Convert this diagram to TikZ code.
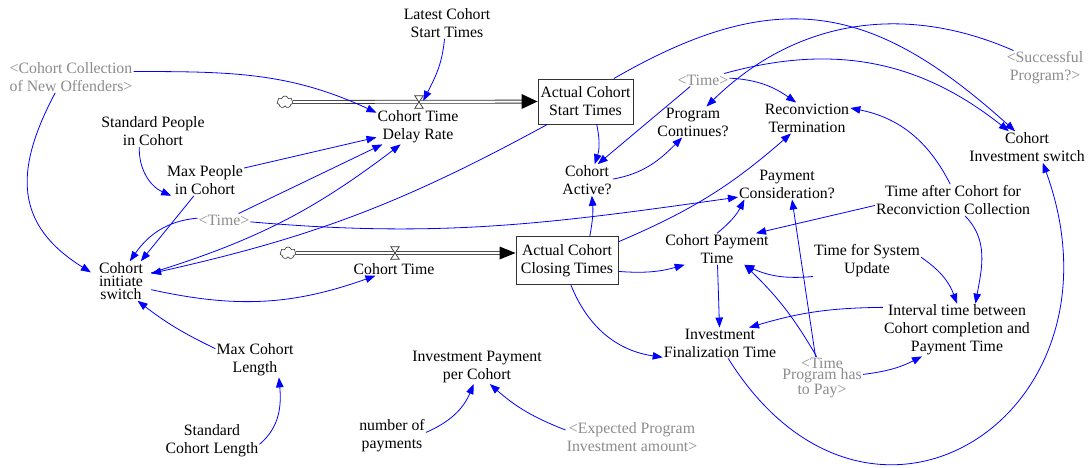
\documentclass[tikz,border=0pt]{standalone}
\usepackage{fontspec}
\setmainfont{Liberation Serif}
\usepackage{tikz}
\usetikzlibrary{arrows.meta}
\usetikzlibrary{shapes.symbols}
\newcommand*\varfont{\fontsize{15.8}{18}\selectfont}
\tikzset{
    var/.style = {align=center,inner sep=1pt,font=\varfont},
    ghost/.style = {var,text=black!45},
    tight/.style = {font=\fontsize{15.8}{13}\selectfont},
    tighter/.style = {font=\fontsize{15.8}{11.5}\selectfont},
    stock/.style = {draw=black!80,line width=0.9pt,align=center,inner sep=2pt,font=\varfont},
    link/.style = {draw=blue,line width=0.8pt,-{Triangle[length=10pt,width=7.5pt]}},
    pipe/.style = {draw=black!80,line width=0.8pt,double=white,double distance=2.2pt},
    valve/.style = {minimum width=8pt,minimum height=12pt,inner sep=0},
    cloudnode/.style = {cloud,cloud puffs=7,cloud ignores aspect,draw=black!80,line width=0.6pt,
        minimum width=16pt,minimum height=12pt,inner sep=0,fill=white}
}

\begin{document}
\begin{tikzpicture}[x=1pt,y=1pt]
        \fill[white] (0,0) rectangle (1089,-468);
        \useasboundingbox (0,0) rectangle (1089,-468);
        % Stocks
        \node[stock,minimum width=95pt,minimum height=45pt] (actstart) at (585.5,-101.5) {Actual Cohort\\Start Times};
        \node[stock,minimum width=102pt,minimum height=48pt] (actclose) at (567,-260.5) {Actual Cohort\\Closing Times};
        % Flows
        \node[cloudnode] (cloudA) at (285,-102) {};
        \node[valve] (valveA) at (419,-102) {};
        \node[var] (rate) at (418,-127) {Cohort Time\\Delay Rate};
        \node[cloudnode] (cloudB) at (288,-253) {};
        \node[valve] (valveB) at (395,-253) {};
        \node[var] (ctime) at (394,-269) {Cohort Time};
        \draw[pipe,shorten >=15pt] (cloudA) -- (actstart);
        \draw[pipe,shorten >=15pt] (cloudB) -- (actclose.west |- valveB);
        \fill[black] (actstart.west) -- ++(-16,7.5) -- ++(0,-15) -- cycle;
        \fill[black] (actclose.west |- valveB) -- ++(-16,6.5) -- ++(0,-13) -- cycle;
        \foreach \v in {valveA,valveB}
            \draw[black!80,line width=0.7pt,fill=white] (\v.north west) -- (\v.north east)
                -- (\v.south west) -- (\v.south east) -- cycle;
        % Auxiliaries
        \node[var] (latest) at (447,-23) {Latest Cohort\\Start Times};
        \node[ghost] (collect) at (71,-77) {<Cohort Collection\\of New Offenders>};
        \node[ghost] (timeA) at (703,-80) {<Time>};
        \node[ghost] (success) at (1045,-68) {<Successful\\Program?>};
        \node[var] (stdpeople) at (153,-131) {Standard People\\in Cohort};
        \node[var] (maxpeople) at (205,-180) {Max People\\in Cohort};
        \node[var] (progcont) at (693,-122) {Program\\Continues?};
        \node[var] (reconv) at (807,-118) {Reconviction\\Termination};
        \node[var] (invswitch) at (1027,-147) {Cohort\\Investment switch};
        \node[var] (active) at (587,-180) {Cohort\\Active?};
        \node[var] (paycons) at (787,-184) {Payment\\Consideration?};
        \node[var] (timeafter) at (953,-200) {Time after Cohort for\\Reconviction Collection};
        \node[ghost] (timeB) at (224,-220) {<Time>};
        \node[var,tight,inner xsep=8pt] (initiate) at (121,-281) {Cohort\\initiate\\switch};
        \node[var] (cohortpay) at (717,-249) {Cohort Payment\\Time};
        \node[var] (timesys) at (867,-261) {Time for System\\Update};
        \node[var] (interval) at (957,-330) {Interval time between\\Cohort completion and\\Payment Time};
        \node[var] (invfinal) at (720,-343) {Investment\\Finalization Time};
        \node[ghost,tighter] (timepay) at (822,-378) {<Time\\Program has\\to Pay>};
        \node[var] (maxlen) at (255,-360) {Max Cohort\\Length};
        \node[var] (stdlen) at (212,-441) {Standard\\Cohort Length};
        \node[var] (invpay) at (477,-367) {Investment Payment\\per Cohort};
        \node[var] (numpay) at (392,-436) {number of\\payments};
        \node[ghost] (expected) at (632,-437) {<Expected Program\\Investment amount>};
        % Straight links
        \foreach \src/\dest in {maxpeople.17/rate.194,maxpeople.-125/initiate.45,timeB.24/rate.206,
                timeA.-153/active.56,timeafter.184/cohortpay.22,cohortpay/invfinal,timepay.107/paycons.-72}
            \draw[link] (\src) -- (\dest);
        % Bent links (negative bend turns right)
        \foreach \src/\dest/\b in {actstart.-149/initiate.14/8,initiate.15/rate.225/-10,
                initiate.-16/ctime.200/-16,maxlen.164/initiate.-50/6,actstart.-64/active.64/15,
                timeA.17/invswitch.139/27,success.151/progcont.49/-34,timeafter.100/reconv.13/-26,
                actclose.20/reconv.224/-9,actclose.47/active.-73/-8,actclose.-12/cohortpay.206/-10,
                actclose.-81/invfinal.194/-30,cohortpay.90/paycons.200/-12,timesys.196/cohortpay.-30/15,
                timesys.4/interval.90/18,timepay.104/cohortpay.-30/-8,timepay.5/interval.217/-10,
                interval.163/invfinal.28/-8,numpay.6/invpay.-101/-22,expected.174/invpay.-53/10}
            \draw[link] (\src) to[bend left=\b] (\dest);
        % Links with set tangents
        \draw[link] (latest.-99) to[out=-95,in=63] (valveA.15);
        \draw[link] (collect.5) to[out=0,in=155] (rate.161);
        \draw[link] (collect.-135) to[out=-118,in=148,looseness=1.25] (initiate.164);
        \draw[link] (stdpeople.-131) to[out=-92,in=156] (maxpeople.205);
        \draw[link] (timeB.176) to[out=185,in=55] (initiate.66);
        \draw[link] (timeB.-4) to[out=-5,in=188] (paycons.195);
        \draw[link] (stdlen.-4) to[out=40,in=-85] (maxlen.-36);
        \draw[link] (active.2) to[out=10,in=-135] (progcont.235);
        \draw[link] (timeA.4) to[out=-3,in=145] (reconv.125);
        \draw[link] (actstart.39) to[out=30,in=138,looseness=1.2] (invswitch.127);
        \draw[link] (timeafter.-53) to[out=-45,in=80] (interval.55);
        \draw[link] (invfinal.-62) to[out=-58,in=-70,looseness=1.85] (invswitch.-45);
    \end{tikzpicture}
\end{document}
